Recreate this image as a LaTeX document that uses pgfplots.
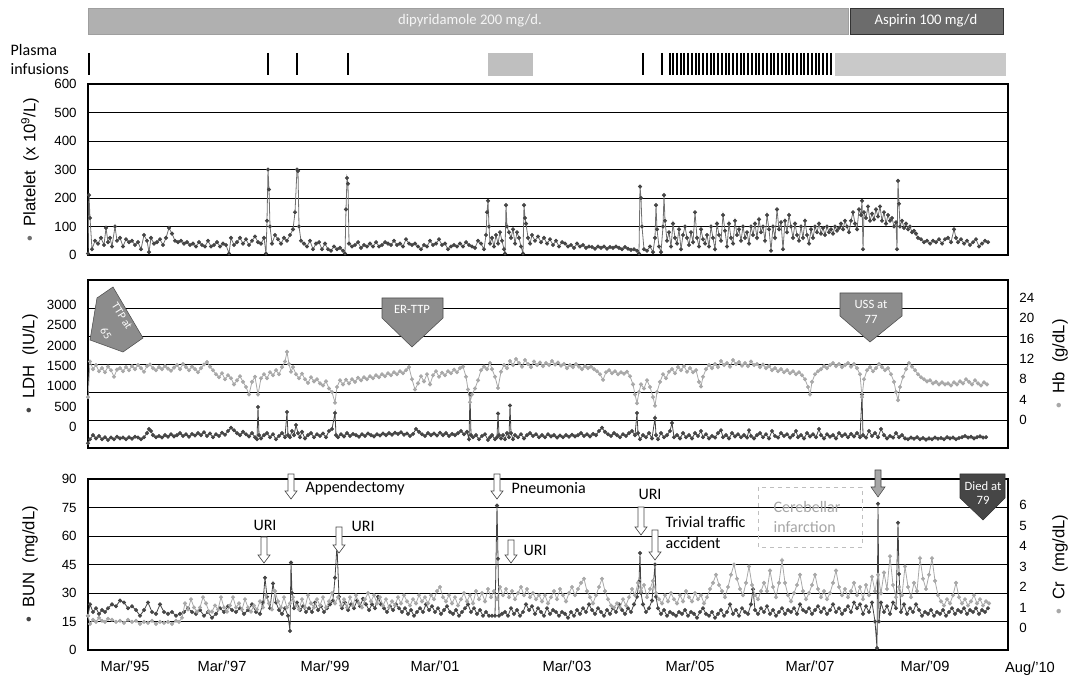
\documentclass[border=0pt]{standalone}
\usepackage{pgfplots}
\pgfplotsset{compat=1.18}
\usepackage{fontspec}
\setmainfont{Liberation Sans}
\newfontfamily\calfont{Carlito}
\definecolor{dk}{HTML}{454545}
\definecolor{md}{HTML}{707070}
\definecolor{lt}{HTML}{A8A8A8}
\definecolor{shp}{HTML}{8C8C8C}
\pgfplotsset{
  panel/.style={scale only axis, width=690pt, xmin=88, xmax=1008,
    axis line style={black, line width=0.8pt},
    major tick length=0pt, xtick=\empty,
    grid style={black, line width=0.45pt},
    tick label style={font=\fontsize{10}{12}\selectfont},
    /pgf/number format/assume math mode=true,
    /pgf/number format/set thousands separator={},
    yticklabel style={xshift=-5pt},
    every axis y label/.style={at={(rel axis cs:0,0.5)}, xshift=-43.5pt, rotate=90, anchor=center, font=\fontsize{12.5}{14}\selectfont},
  },
  rpanel/.style={scale only axis, width=690pt, xmin=88, xmax=1008,
    axis y line*=right, axis x line=none,
    major tick length=0pt,
    tick label style={font=\fontsize{10}{12}\selectfont},
    /pgf/number format/assume math mode=true,
    yticklabel style={xshift=5pt},
    every axis y label/.style={at={(rel axis cs:1,0.5)}, xshift=39pt, rotate=90, anchor=center, font=\fontsize{12.5}{14}\selectfont},
  },
}
\newcommand{\harrow}[3]{\draw[gray!60!black, line width=0.5pt, fill=white] ({#1-3},#2) -- ({#1+3},#2) -- ({#1+3},{#3-8}) -- ({#1+6},{#3-8}) -- (#1,#3) -- ({#1-6},{#3-8}) -- ({#1-3},{#3-8}) -- cycle;}
\begin{document}
\begin{tikzpicture}
\useasboundingbox (0,0) rectangle (811.5pt,513.75pt);
% ---------- timeline ----------
\begin{axis}[scale only axis, width=690pt, height=56.25pt, at={(66pt,510pt)}, anchor=north west,
  xmin=88, xmax=1008, ymin=5, ymax=80, y dir=reverse, hide axis, clip=false, unbounded coords=jump]
\addplot[fill=gray!62, draw=gray!75] coordinates {(88,8) (848,8) (848,34) (88,34)} -- cycle;
\addplot[fill=gray!85!black, draw=gray!40!black] coordinates {(850,8) (1003,8) (1003,34) (850,34)} -- cycle;
\addplot[fill=gray!50, draw=gray!50] coordinates {(488,53) (532,53) (532,75) (488,75)} -- cycle;
\addplot[fill=gray!42, draw=gray!42] coordinates {(835,53) (1005,53) (1005,75) (835,75)} -- cycle;
\addplot[black, line width=0.9pt] coordinates {
(89,53)(89,75)(89,nan) (268,53)(268,75)(268,nan) (297,53)(297,75)(297,nan) (348,53)(348,75)(348,nan)
(643,53)(643,75)(643,nan) (662,53)(662,75)(662,nan) (670,53)(670,75)(670,nan) (673,53)(673,75)(673,nan)
(677,53)(677,75)(677,nan) (681,53)(681,75)(681,nan) (684,53)(684,75)(684,nan) (688,53)(688,75)(688,nan)
(692,53)(692,75)(692,nan) (696,53)(696,75)(696,nan) (699,53)(699,75)(699,nan) (703,53)(703,75)(703,nan)
(707,53)(707,75)(707,nan) (711,53)(711,75)(711,nan) (714,53)(714,75)(714,nan) (718,53)(718,75)(718,nan)
(722,53)(722,75)(722,nan) (726,53)(726,75)(726,nan) (729,53)(729,75)(729,nan) (733,53)(733,75)(733,nan)
(737,53)(737,75)(737,nan) (741,53)(741,75)(741,nan) (744,53)(744,75)(744,nan) (748,53)(748,75)(748,nan)
(752,53)(752,75)(752,nan) (756,53)(756,75)(756,nan) (759,53)(759,75)(759,nan) (763,53)(763,75)(763,nan)
(767,53)(767,75)(767,nan) (771,53)(771,75)(771,nan) (774,53)(774,75)(774,nan) (778,53)(778,75)(778,nan)
(782,53)(782,75)(782,nan) (786,53)(786,75)(786,nan) (789,53)(789,75)(789,nan) (793,53)(793,75)(793,nan)
(797,53)(797,75)(797,nan) (801,53)(801,75)(801,nan) (804,53)(804,75)(804,nan) (808,53)(808,75)(808,nan)
(812,53)(812,75)(812,nan) (816,53)(816,75)(816,nan) (819,53)(819,75)(819,nan) (823,53)(823,75)(823,nan)
(827,53)(827,75)(827,nan) (831,53)(831,75)(831,nan)};
\node[text=gray!8, font=\calfont\fontsize{11}{12}\selectfont] at (axis cs:470,21) {dipyridamole 200 mg/d.};
\node[text=white, font=\calfont\fontsize{11}{12}\selectfont] at (axis cs:926,21) {Aspirin 100 mg/d};
\end{axis}
% ---------- panel 1: platelet ----------
\begin{axis}[panel, height=128.25pt, at={(66pt,450.75pt)}, anchor=north west,
  ymin=0, ymax=600, ytick={0,100,...,600}, ymajorgrids,
  ylabel={{\color{md}\textbullet}\ \ Platelet\ \ (x 10\textsuperscript{9}/L)}]
\addplot[md, line width=0.6pt, mark=*, mark size=1.2pt, mark options={fill=dk, draw=dk}] coordinates {
(88,5)(89,210)(90,130)(92,20)(95,50)(98,40)(101,60)(104,35)(106,95)(108,45)(110,60)(112,30)(115,100)(117,50)(120,60)(123,30)(126,55)(129,45)(132,50)(135,35)(138,45)(141,20)(144,70)(147,50)(149,10)(151,60)(154,40)(157,45)(160,55)(163,35)(166,60)(169,95)(172,75)(175,50)(178,45)(181,50)(184,40)(187,45)(190,35)(193,40)(196,30)(199,45)(202,35)(205,30)(208,50)(211,30)(214,35)(217,45)(220,30)(223,40)(226,35)(229,5)(231,60)(234,35)(237,45)(240,60)(243,40)(246,55)(249,35)(252,50)(255,65)(258,45)(261,40)(264,60)(266,5)(267,120)(268,300)(269,230)(270,100)(272,40)(275,70)(278,55)(281,40)(284,60)(287,50)(290,70)(293,90)(295,150)(297,300)(298,295)(299,100)(301,50)(304,40)(307,30)(310,50)(313,20)(316,40)(319,45)(322,20)(325,40)(328,20)(331,15)(334,30)(337,20)(340,25)(343,15)(345,5)(346,160)(347,270)(348,250)(349,40)(352,30)(355,35)(358,45)(361,25)(364,35)(367,30)(370,40)(373,30)(376,45)(379,30)(382,35)(385,45)(388,40)(391,35)(394,50)(397,35)(400,40)(403,30)(406,55)(409,40)(412,35)(415,40)(418,30)(421,20)(424,35)(427,30)(430,50)(433,35)(436,40)(439,55)(442,35)(445,40)(448,20)(451,30)(454,35)(457,30)(460,40)(463,30)(466,45)(469,35)(472,30)(475,25)(478,50)(481,40)(484,20)(486,70)(487,150)(488,190)(489,100)(490,40)(492,60)(494,30)(496,70)(498,40)(500,80)(502,50)(504,20)(505,5)(506,175)(507,100)(509,80)(511,60)(513,90)(515,40)(517,80)(519,60)(521,30)(523,5)(524,175)(525,130)(526,110)(528,60)(530,40)(532,70)
(535,50)(538,65)(541,45)(544,60)(547,40)(550,55)(553,35)(556,50)(559,30)(562,45)(565,40)(568,30)(571,35)(574,25)(577,40)(580,30)(583,35)(586,25)(589,30)(592,28)(595,22)(598,30)(601,25)(604,30)(607,22)(610,28)(613,25)(616,30)(619,25)(622,20)(625,28)(628,22)(631,18)(634,20)(637,15)(639,5)(640,240)(641,200)(642,100)(644,20)(647,15)(650,30)(653,10)(655,60)(656,175)(657,90)(659,30)(661,10)(663,100)(664,210)(665,120)(667,50)(669,80)(671,30)(673,110)(675,60)(677,40)(679,90)(681,20)(683,70)(685,100)(687,60)(689,35)(691,80)(693,45)(695,150)(697,60)(699,30)(701,90)(703,55)(705,40)(707,70)(709,30)(711,100)(713,60)(715,20)(717,110)(719,70)(721,50)(723,140)(725,85)(727,30)(729,110)(731,60)(733,40)(735,120)(737,70)(739,90)(741,50)(743,100)(745,60)(747,80)(749,40)(751,100)(753,70)(755,110)(757,60)(759,125)(761,80)(763,100)(765,50)(767,140)(769,90)(771,15)(773,100)(775,60)(777,160)(779,90)(781,115)(783,20)(785,120)(787,80)(789,140)(791,100)(793,60)(795,110)(797,70)(799,50)(801,100)(803,60)(805,120)(807,70)(809,40)(811,90)(813,60)(815,100)(817,80)(819,110)(821,75)(823,95)(825,70)(827,100)(829,80)(831,90)(833,75)(835,100)(837,85)(839,95)(841,110)(843,90)(845,120)(847,100)(849,80)(851,120)(853,150)(855,110)(857,90)(859,160)(861,140)(862,190)(863,20)(864,150)(866,130)(868,170)(870,120)(872,145)(874,125)(876,160)(878,135)(880,170)(882,120)(884,150)(886,110)(888,140)(890,120)(892,130)(894,100)(896,115)(897,20)(898,260)(899,180)(900,100)(902,120)(904,95)(906,110)(908,90)(910,100)(912,80)(914,85)(916,75)(918,60)(921,55)(924,45)(927,50)(930,40)(933,50)(936,45)(939,55)(942,40)(945,55)(948,60)(951,45)(954,90)(956,60)(958,45)(961,55)(964,40)(967,50)(970,35)(973,45)(976,55)(979,30)(982,40)(985,50)(988,45)};
\end{axis}
% ---------- panel 2: LDH / Hb ----------
\begin{axis}[panel, height=126pt, at={(66pt,303.75pt)}, anchor=north west,
  ymin=-516, ymax=3614, ytick={0,500,...,3000},
  extra y ticks={172,861,1549,2237,2926}, extra y tick labels={},
  extra y tick style={grid=major},
  ylabel={{\color{dk}\textbullet}\ \ LDH\ \ (IU/L)}]
\addplot[dk, line width=0.6pt, mark=*, mark size=1.2pt, mark options={fill=dk, draw=dk}] coordinates {
(88,-400)(90,-300)(93,-200)(96,-280)(99,-220)(102,-300)(105,-250)(108,-320)(111,-260)(114,-300)(117,-240)(120,-280)(123,-260)(126,-300)(129,-250)(132,-290)(135,-240)(138,-260)(141,-300)(144,-250)(147,-150)(149,-50)(151,-100)(153,-200)(156,-250)(159,-220)(162,-260)(165,-200)(168,-240)(171,-180)(174,-230)(177,-200)(180,-150)(183,-220)(186,-180)(189,-240)(192,-170)(195,-210)(198,-150)(201,-200)(204,-130)(207,-220)(210,-160)(213,-250)(216,-180)(219,-220)(222,-140)(225,-190)(228,-100)(231,-20)(234,-80)(237,-150)(240,-200)(243,-120)(246,-180)(249,-230)(252,-150)(255,-250)(257,-300)(258,490)(259,-200)(261,-280)(264,-200)(267,-150)(270,-250)(273,-180)(276,-300)(279,-220)(282,-150)(285,-250)(287,370)(288,-200)(290,-250)(292,-100)(294,-200)(296,50)(298,-150)(300,-250)(302,-120)(305,-280)(308,-200)(311,-150)(314,-250)(317,-180)(320,-220)(323,-160)(326,-250)(329,-100)(332,-50)(335,345)(336,-200)(338,-250)(341,-180)(344,-230)(347,-150)(350,-220)(353,-170)(356,-200)(359,-240)(362,-180)(365,-220)(368,-160)(371,-200)(374,-230)(377,-180)(380,-210)(383,-160)(386,-200)(389,-150)(392,-190)(395,-140)(398,-170)(401,-130)(404,-190)(407,-160)(410,-220)(413,-170)(416,-50)(419,-120)(422,-180)(425,-220)(428,-150)(431,-200)(434,-160)(437,-210)(440,-140)(443,-200)(446,-150)(449,-220)(452,-170)(455,-200)(458,-150)(461,-100)(464,-180)(467,-120)(469,-300)(470,800)(471,-200)(473,-250)(476,-200)(479,-300)(482,-220)(485,-180)(488,-320)(490,-250)(492,-200)(495,-300)(497,-250)(498,330)(499,-200)(501,-280)(503,-200)(505,-300)(507,-150)(509,-250)(510,530)(511,-150)(513,-300)(515,-200)(518,-250)(521,-180)(524,-280)(527,-200)(530,-150)(533,-220)(536,-180)(539,-250)
(542,-200)(545,-250)(548,-180)(551,-230)(554,-200)(557,-260)(560,-210)(563,-250)(566,-200)(569,-240)(572,-190)(575,-230)(578,-200)(581,-150)(584,-220)(587,-180)(590,-230)(593,-170)(596,-200)(599,-100)(602,-20)(605,-120)(608,-180)(611,-220)(614,-150)(617,-200)(620,-250)(623,-180)(626,-220)(629,-150)(632,-100)(635,-200)(637,345)(638,-150)(640,-300)(643,-200)(646,-250)(649,-150)(652,-280)(655,220)(656,-200)(658,-300)(661,-150)(664,-250)(667,-200)(670,-100)(672,100)(674,-250)(677,-200)(680,-280)(683,-150)(686,-250)(689,-200)(692,-280)(695,-150)(698,-220)(701,-100)(703,-250)(706,-180)(709,-280)(712,-220)(715,-260)(718,-150)(721,-80)(723,-250)(726,-200)(729,-280)(732,-150)(735,-230)(738,-180)(741,-250)(744,-200)(747,-260)(749,-80)(751,-220)(754,-280)(757,-200)(760,-150)(763,-250)(766,-180)(769,-280)(772,-100)(775,-220)(778,-260)(781,-150)(784,-220)(787,-180)(790,-260)(793,-200)(796,-100)(798,-250)(801,-200)(804,-280)(807,-150)(810,-230)(813,-180)(816,-250)(819,-50)(821,-200)(824,-280)(827,-180)(830,-240)(833,-200)(836,-280)(839,-150)(842,-220)(845,-180)(848,-250)(851,-170)(854,-230)(857,-150)(860,-250)(862,800)(863,-200)(866,-260)(869,-100)(872,-220)(875,-150)(878,-250)(881,-50)(884,-200)(887,-280)(890,-220)(893,-260)(896,-150)(899,-250)(902,-200)(905,-280)(908,-300)(911,-260)(914,-290)(917,-250)(920,-300)(923,-270)(926,-310)(929,-280)(932,-300)(935,-260)(938,-290)(941,-270)(944,-300)(947,-250)(950,-280)(953,-260)(956,-300)(959,-270)(962,-250)(965,-220)(968,-260)(971,-240)(974,-280)(977,-250)(980,-230)(983,-260)(986,-250)};
\end{axis}
\begin{axis}[rpanel, height=126pt, at={(66pt,303.75pt)}, anchor=north west,
  ymin=-5.51, ymax=27.54, ytick={0,4,...,24},
  ylabel={{\color{lt}\textbullet}\ \ Hb\ \ (g/dL)}]
\addplot[lt, line width=0.6pt, mark=*, mark size=1.2pt, mark options={fill=lt, draw=lt}] coordinates {
(88,4.5)(90,11.5)(93,10)(96,10.8)(99,9.6)(102,10.2)(105,9.4)(108,10.5)(111,9.8)(114,8.5)(117,9.9)(120,10.2)(123,9.6)(126,10.4)(129,9.8)(132,10.6)(135,10.0)(138,10.8)(141,10.2)(144,9.5)(147,10.6)(150,10.9)(153,10.2)(156,9.8)(159,10.4)(162,10.0)(165,10.6)(168,10.1)(171,9.7)(174,10.3)(177,10.8)(180,10.0)(183,11.0)(186,10.4)(189,9.8)(192,10.5)(195,10.0)(198,9.4)(201,10.2)(204,10.9)(207,11.4)(210,10.5)(213,9.8)(216,9.0)(219,8.4)(222,9.2)(225,8.0)(228,8.8)(231,8.2)(234,7.0)(237,7.8)(240,8.6)(243,7.5)(246,6.5)(249,5.0)(252,7.5)(255,8.5)(258,5.0)(261,8.2)(264,9.0)(267,8.2)(270,9.4)(273,8.8)(276,9.8)(279,9.0)(282,10.4)(285,11.5)(287,13.4)(289,11.0)(291,9.5)(293,10.4)(296,9.0)(299,8.2)(302,9.1)(305,8.0)(308,7.3)(311,8.4)(314,7.6)(317,8.0)(320,7.2)(323,6.8)(326,7.6)(329,6.2)(332,5.5)(335,3.4)(337,6.5)(340,7.8)(343,7.0)(346,7.9)(349,7.2)(352,8.0)(355,7.5)(358,8.3)(361,7.8)(364,8.4)(367,8.0)(370,8.6)(373,8.2)(376,8.8)(379,8.4)(382,9.0)(385,8.6)(388,9.2)(391,8.8)(394,9.4)(397,9.0)(400,9.6)(403,9.2)(406,9.8)(409,10.4)(412,8.0)(415,6.0)(418,7.2)(421,8.6)(424,7.6)(427,9.0)(430,7.0)(433,8.8)(436,9.6)(439,8.5)(442,9.3)(445,8.8)(448,9.6)(451,9.2)(454,9.9)(457,9.4)(460,10.2)(463,10.5)(466,8.5)(468,6.0)(470,3.5)(472,5.0)(475,6.2)(478,7.8)(481,9.8)(484,10.5)(487,10.0)(490,11.2)(492,10.0)(495,8.5)(498,6.3)(501,9.5)(504,10.8)(507,10.2)(510,11.6)(513,10.8)(516,12.0)(519,11.2)(522,10.5)(525,11.8)(528,11.0)(531,10.4)(534,11.5)(537,10.8)(540,11.3)(543,10.6)(546,11.2)(549,10.8)(552,11.6)(555,10.9)(558,11.3)(561,10.7)(564,11.0)(567,10.2)(570,10.8)(573,10.4)(576,11.0)(579,10.5)(582,10.0)(585,10.6)(588,10.2)(591,10.5)(594,10.0)(597,9.6)(600,9.0)(603,7.9)(606,9.4)(609,9.8)(612,9.2)(615,9.6)(618,9.0)(621,9.4)(624,9.1)(627,9.5)(630,8.6)(633,7.0)(635,5.0)(637,3.3)(639,5.5)(641,7.0)(644,6.2)(647,7.8)(650,6.5)(653,4.5)(655,2.8)(657,5.5)(660,7.5)(663,9.0)(666,8.2)(669,9.5)(672,10.0)(675,9.2)(678,10.4)(681,9.8)(684,10.6)(687,9.5)(690,10.2)(693,9.4)(696,9.8)(699,7.5)(701,6.6)(703,8.5)(706,10.0)(709,10.8)(712,10.2)(715,11.0)(718,10.4)(721,11.6)(724,10.8)(727,11.2)(730,10.5)(733,11.8)(736,11.0)(739,11.4)(742,10.7)(745,11.2)(748,10.6)(751,11.5)(754,10.8)(757,11.0)(760,10.4)(763,10.9)(766,10.2)(769,10.6)(772,9.8)(775,10.2)(778,9.6)(781,10.0)(784,9.4)(787,9.8)(790,9.2)(793,9.6)(796,9.0)(799,9.4)(802,8.8)(805,8.0)(808,6.5)(810,5.0)(812,7.5)(815,9.0)(818,9.6)(821,10.0)(824,10.6)(827,10.2)(830,10.8)(833,11.2)(836,10.6)(839,11.0)(842,10.4)(845,10.8)(848,11.2)(851,10.5)(854,11.0)(857,10.2)(860,9.0)(862,4.5)(864,8.0)(867,9.8)(870,10.4)(873,9.6)(876,10.2)(879,11.0)(882,10.4)(885,9.8)(888,10.2)(891,9.0)(894,7.5)(896,5.5)(898,3.9)(900,6.5)(903,8.5)(906,10.0)(909,11.2)(912,10.5)(915,9.8)(918,9.0)(921,8.4)(924,8.0)(927,7.6)(930,7.8)(933,7.2)(936,7.5)(939,7.0)(942,7.4)(945,7.0)(948,7.2)(951,6.8)(954,7.4)(957,7.0)(960,7.6)(963,7.2)(966,8.0)(969,7.5)(972,7.0)(975,7.8)(978,7.2)(981,6.8)(984,7.4)(987,7.0)};
\end{axis}
% ---------- panel 3: BUN / Cr ----------
\begin{axis}[panel, height=128.25pt, at={(66pt,154.5pt)}, anchor=north west,
  ymin=0, ymax=90, ytick={0,15,...,90}, ymajorgrids,
  xtick={125,222,325,435,567,690,810,925},
  xticklabels={Mar/'95,Mar/'97,Mar/'99,Mar/'01,Mar/'03,Mar/'05,Mar/'07,Mar/'09},
  xticklabel style={font=\fontsize{11}{12}\selectfont, yshift=-5pt},
  ylabel={{\color{dk}\textbullet}\ \ BUN\ \ (mg/dL)}]
\addplot[dk, line width=0.6pt, mark=*, mark size=1.2pt, mark options={fill=dk, draw=dk}] coordinates {
(88,18)(90,24)(93,20)(96,22)(99,19)(102,21)(105,20)(108,22)(112,24)(116,23)(120,26)(124,25)(128,22)(132,23)(136,21)(140,18)(144,21)(148,25)(152,20)(156,19)(160,24)(164,20)(168,19)(172,20)(176,18)(180,19)(184,20)(188,22)(192,20)(196,19)(200,21)(204,18)(208,20)(212,17)(216,19)(220,22)(224,20)(228,23)(232,21)(236,20)(240,22)(244,19)(248,21)(252,24)(256,20)(260,19)(263,25)(265,38)(267,28)(270,22)(273,35)(276,25)(279,21)(282,19)(285,22)(288,18)(290,10)(291,46)(292,30)(294,22)(297,25)(300,21)(303,23)(306,20)(309,22)(312,20)(315,25)(318,21)(321,23)(324,20)(327,22)(330,24)(333,26)(335,38)(337,55)(339,28)(342,22)(345,25)(348,21)(351,24)(354,22)(357,26)(360,23)(363,27)(366,24)(369,21)(372,24)(375,22)(378,28)(381,24)(384,22)(387,20)(390,23)(393,21)(396,24)(399,22)(402,20)(405,22)(408,19)(411,21)(414,18)(417,20)(420,22)(423,20)(426,24)(429,21)(432,23)(435,20)(438,22)(441,19)(444,21)(447,23)(450,20)(453,19)(456,21)(459,18)(462,20)(465,22)(468,24)(471,20)(474,22)(477,19)(480,21)(483,18)(486,20)(489,18)(492,18)(495,18)(497,76)(498,48)(499,18)(502,19)(505,20)(508,18)(511,22)(514,19)(517,21)(520,18)(523,20)(526,24)(529,21)(532,23)(535,19)(538,22)(541,20)(544,18)(547,22)(550,19)(553,21)(556,20)(559,18)(562,20)(565,19)(568,17)(571,20)(574,18)(577,21)(580,19)(583,22)(586,20)(589,24)(592,21)(595,19)(598,22)(601,20)(604,18)(607,21)(610,19)(613,22)(616,20)(619,24)(622,21)(625,19)(628,22)(631,20)(634,24)(637,28)(639,36)(640,51)(641,30)(643,24)(646,20)(649,22)(652,26)(655,45)(656,28)(658,22)(661,19)(664,21)(667,18)(670,20)(673,19)(676,18)(679,20)(682,19)(685,21)(688,18)(691,20)(694,19)(697,17)(700,20)(703,22)(706,19)(709,18)(712,20)(715,17)(718,19)(721,21)(724,18)(727,20)(730,24)(733,19)(736,21)(739,18)(742,22)(745,20)(748,19)(751,24)(753,32)(755,21)(758,19)(761,22)(764,20)(767,23)(770,19)(773,21)(776,18)(779,20)(782,22)(785,19)(788,21)(791,20)(794,22)(797,19)(800,24)(803,21)(806,20)(809,22)(812,19)(815,21)(818,23)(821,20)(824,22)(827,19)(830,21)(833,24)(836,20)(839,22)(842,19)(845,21)(848,23)(851,20)(854,25)(857,22)(860,24)(863,19)(866,23)(869,20)(872,25)(875,15)(877,1)(878,77)(879,15)(881,25)(884,20)(887,23)(890,19)(893,25)(896,22)(898,67)(899,40)(901,20)(904,24)(907,19)(910,22)(913,20)(916,24)(919,21)(922,18)(925,20)(928,19)(931,21)(934,18)(937,20)(940,19)(943,21)(946,18)(949,20)(952,22)(955,19)(958,21)(961,20)(964,22)(967,19)(970,21)(973,20)(976,22)(979,19)(982,21)(985,20)(988,22)};
\end{axis}
\begin{axis}[rpanel, height=128.25pt, at={(66pt,154.5pt)}, anchor=north west,
  ymin=-1.073, ymax=7.268, ytick={0,1,...,6},
  ylabel={{\color{lt}\textbullet}\ \ Cr\ \ (mg/dL)}]
\addplot[lt, line width=0.6pt, mark=*, mark size=1.2pt, mark options={fill=lt, draw=lt}] coordinates {
(88,0.6)(90,0.2)(93,0.4)(96,0.3)(99,0.5)(102,0.35)(105,0.3)(108,0.45)(112,0.4)(116,0.3)(120,0.35)(124,0.25)(128,0.4)(132,0.3)(136,0.35)(140,0.2)(144,0.3)(148,0.25)(152,0.35)(156,0.2)(160,0.3)(164,0.25)(168,0.3)(172,0.2)(176,0.35)(179,0.3)
(182,0.5)(185,1.2)(188,0.9)(191,1.4)(194,1.0)(197,0.8)(200,1.0)(203,1.5)(206,1.2)(209,0.8)(212,0.8)(215,1.1)(218,0.9)(221,1.5)(224,1.0)(227,0.8)(230,1.1)(233,1.5)(236,1.0)(239,1.2)(242,0.9)(245,1.4)(248,1.0)(251,0.8)(254,1.1)(257,0.9)(260,1.3)(263,1.0)(266,1.6)(269,1.2)(272,0.9)(275,1.8)(278,1.3)(281,1.0)(284,1.5)(287,1.0)(290,1.2)(293,1.5)(296,1.1)(299,0.9)(302,1.4)(305,1.0)(308,1.6)(311,1.2)(314,1.0)(317,1.4)(320,1.1)(323,1.5)(326,1.0)(329,1.3)(332,1.7)(335,1.2)(338,1.5)(341,1.1)(344,1.4)(347,1.0)(350,1.5)(353,1.1)(356,1.6)(359,1.2)(362,1.0)(365,1.4)(368,1.7)(371,1.3)(374,1.6)(377,1.2)(380,1.5)(383,1.1)(386,1.4)(389,1.0)(392,1.3)(395,1.1)(398,1.5)(401,1.2)(404,1.6)(407,1.3)(410,1.1)(413,1.4)(416,1.2)(419,1.6)(422,1.3)(425,1.5)(428,1.2)(431,1.6)(434,1.4)(437,1.8)(440,2.0)(443,1.5)(446,1.3)(449,1.6)(452,1.2)(455,1.5)(458,1.1)(461,1.4)(464,1.7)(467,1.3)(470,1.6)(473,1.2)(476,1.8)(479,1.4)(482,1.7)(485,1.3)(488,1.9)(491,1.5)(494,1.8)(497,1.4)(500,2.0)(503,1.6)(506,1.9)(509,1.5)(512,1.8)(515,1.4)(518,1.7)(521,2.0)(524,1.6)(527,1.9)(530,1.5)(533,1.7)(536,1.4)(539,1.6)(542,1.3)(545,1.6)(548,1.2)(551,1.5)(554,1.8)(557,1.4)(560,1.9)(563,1.6)(566,1.3)(569,1.7)(572,2.0)(575,1.6)(578,1.9)(581,2.2)(584,2.4)(587,1.8)(590,1.5)(593,1.2)(596,1.6)(599,2.0)(602,2.4)(605,1.8)(608,1.4)(611,1.1)(614,1.0)(617,1.2)(620,1.0)(623,1.4)(626,1.1)(629,1.5)(632,1.9)(635,1.6)(638,2.2)(641,1.8)(644,2.1)(647,1.5)(650,1.9)(653,2.3)(656,1.7)(659,1.4)(662,1.2)(665,1.6)(668,1.3)(671,1.7)(674,1.4)(677,1.2)(680,1.6)(683,1.3)(686,1.8)(689,1.5)(692,1.3)(695,1.7)(698,1.4)(701,1.6)(704,1.2)(707,1.5)(710,1.9)(713,2.2)(716,2.6)(719,2.1)(722,1.8)(725,1.5)(728,2.0)(731,2.6)(734,3.1)(737,2.4)(740,1.9)(743,1.6)(746,2.2)(749,3.0)(752,2.1)(755,1.6)(758,1.4)(761,1.8)(764,2.2)(767,1.8)(770,2.8)(773,2.0)(776,1.5)(779,2.2)(782,3.3)(785,2.2)(788,1.6)(791,1.3)(794,1.7)(797,2.1)(800,2.6)(803,1.8)(806,1.4)(809,1.7)(812,2.1)(815,2.6)(818,1.9)(821,1.5)(824,1.8)(827,1.4)(830,1.7)(833,2.2)(836,2.8)(839,2.0)(842,1.6)(845,1.9)(848,1.5)(851,1.8)(854,2.2)(857,1.6)(860,2.0)(863,1.4)(866,2.1)(869,1.6)(872,2.5)(875,1.8)(878,2.6)(881,1.7)(884,2.7)(887,1.9)(890,3.5)(893,2.1)(896,1.5)(899,2.0)(902,1.6)(905,3.0)(908,2.0)(911,1.5)(914,2.2)(917,1.8)(920,3.4)(923,2.4)(926,1.9)(929,2.6)(932,3.4)(935,2.3)(938,1.6)(941,1.3)(944,1.1)(947,1.4)(950,1.2)(953,1.6)(956,2.2)(959,1.5)(962,1.2)(965,1.4)(968,1.1)(971,1.3)(974,1.6)(977,1.2)(980,1.4)(983,1.1)(986,1.3)(989,1.2)};
\end{axis}
% ---------- annotations (pixel frame) ----------
\begin{scope}[x=0.75pt, y=-0.75pt, shift={(0pt,513.75pt)}]
\node[anchor=west, font=\calfont\fontsize{12}{13}\selectfont] at (6,50) {Plasma};
\node[anchor=west, font=\calfont\fontsize{12}{13}\selectfont] at (6,69) {infusions};
\node[font=\fontsize{11}{12}\selectfont] at (1030,669) {Aug/'10};
\filldraw[fill=shp, draw=gray!60!black, line width=0.4pt] (97,298) -- (113,287) -- (143,338) -- (123,352) -- (90,340) -- cycle;
\node[rotate=-58, text=white, inner sep=0pt, font=\calfont\fontsize{8.5}{9}\selectfont] at (122,316) {TTP at};
\node[rotate=-58, text=white, inner sep=0pt, font=\calfont\fontsize{8.5}{9}\selectfont] at (106,333) {65};
\filldraw[fill=shp, draw=gray!60!black, line width=0.4pt] (382,298) -- (443,298) -- (443,318) -- (412,347) -- (382,318) -- cycle;
\node[text=white, font=\calfont\fontsize{9.5}{10}\selectfont] at (412,309) {ER-TTP};
\filldraw[fill=shp, draw=gray!60!black, line width=0.4pt] (840,293) -- (902,293) -- (902,316) -- (870,342) -- (840,316) -- cycle;
\node[text=white, align=center, font=\calfont\fontsize{9.5}{11}\selectfont] at (871,312) {USS at\\77};
\filldraw[fill=gray!55!black, draw=gray!40!black, line width=0.4pt] (960,474) -- (1005,474) -- (1005,498) -- (983,520) -- (960,498) -- cycle;
\node[text=white, align=center, font=\calfont\fontsize{9.5}{11}\selectfont] at (983,493) {Died at\\79};
\harrow{291}{474}{499}
\node[anchor=west, font=\calfont\fontsize{12}{13}\selectfont] at (301,488) {Appendectomy};
\harrow{264}{537}{563}
\node[font=\calfont\fontsize{12}{13}\selectfont] at (265,525) {URI};
\harrow{339}{527}{553}
\node[anchor=west, font=\calfont\fontsize{12}{13}\selectfont] at (347,526) {URI};
\harrow{497}{474}{499}
\node[anchor=west, font=\calfont\fontsize{12}{13}\selectfont] at (507,488) {Pneumonia};
\harrow{511}{540}{563}
\node[anchor=west, font=\calfont\fontsize{12}{13}\selectfont] at (519,550) {URI};
\harrow{641}{507}{535}
\node[font=\calfont\fontsize{12}{13}\selectfont] at (650,494) {URI};
\harrow{655}{530}{560}
\node[anchor=north west, align=left, font=\calfont\fontsize{12}{15.5}\selectfont] at (661,512) {Trivial traffic\\accident};
\draw[gray!50, dashed, line width=0.5pt] (758,487) rectangle (862,547);
\node[align=left, text=gray!70, font=\calfont\fontsize{12}{15.5}\selectfont] at (807,517) {Cerebellar\\infarction};
\filldraw[fill=gray!70, draw=gray!55!black, line width=0.4pt] (875,470) -- (881,470) -- (881,487) -- (885,487) -- (878,497) -- (871,487) -- (875,487) -- cycle;
\end{scope}
\end{tikzpicture}
\end{document}
